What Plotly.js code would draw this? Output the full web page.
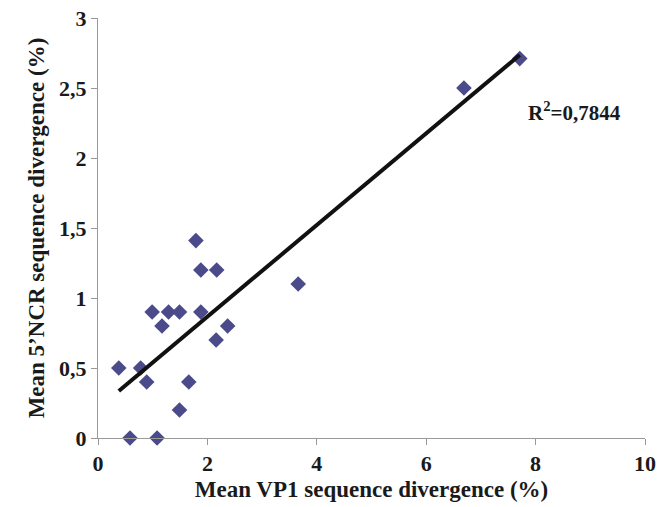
<!DOCTYPE html>
<html>
<head>
<meta charset="utf-8">
<script src="https://cdn.plot.ly/plotly-3.0.1.min.js"></script>
<style>html,body{margin:0;padding:0;background:#fff;}#chart{width:665px;height:507px;}</style>
</head>
<body>
<div id="chart"></div>
<script>
var vp1Divergence = [0.38, 0.585, 0.78, 0.89, 0.99, 1.08, 1.17, 1.29, 1.49, 1.49, 1.66, 1.79, 1.88, 1.88, 2.17, 2.16, 2.37, 3.66, 6.69, 7.71];
var ncrDivergence = [0.5, 0, 0.5, 0.4, 0.9, 0, 0.8, 0.9, 0.9, 0.2, 0.4, 1.41, 1.2, 0.9, 1.2, 0.7, 0.8, 1.1, 2.5, 2.71];
var xTicks = [0, 2, 4, 6, 8, 10];
var xTickLabels = ['0', '2', '4', '6', '8', '10'];
var yTicks = [0, 0.5, 1, 1.5, 2, 2.5, 3];
var yTickLabels = ['0', '0,5', '1', '1,5', '2', '2,5', '3'];
var r2Label = 'R<sup>2</sup>=0,7844';

// least-squares trend line from the data
var n = vp1Divergence.length, mx = 0, my = 0;
for (var i = 0; i < n; i++) { mx += vp1Divergence[i]; my += ncrDivergence[i]; }
mx /= n; my /= n;
var sxy = 0, sxx = 0;
for (var i = 0; i < n; i++) { sxy += (vp1Divergence[i]-mx)*(ncrDivergence[i]-my); sxx += (vp1Divergence[i]-mx)*(vp1Divergence[i]-mx); }
var slope = sxy/sxx, icpt = my - slope*mx;
var xMin = Math.min.apply(null, vp1Divergence), xMax = Math.max.apply(null, vp1Divergence);
var trendX = [xMin, xMax];
var trendY = trendX.map(function(v){ return icpt + slope*v; });

var fam = '"Liberation Serif", "Times New Roman", serif';
function bold(a){ return a.map(function(s){ return '<b>' + s + '</b>'; }); }

var traces = [
  {x: vp1Divergence, y: ncrDivergence, type: 'scatter', mode: 'markers', cliponaxis: false,
   marker: {symbol: 'diamond', size: 12, color: '#4B4A8A'}},
  {x: trendX, y: trendY, type: 'scatter', mode: 'lines', cliponaxis: false,
   line: {color: '#111', width: 4}}
];

var layout = {
  width: 665, height: 507,
  margin: {l: 98, r: 20, t: 18, b: 69},
  paper_bgcolor: '#fff', plot_bgcolor: '#fff',
  showlegend: false,
  font: {family: fam, color: '#1a1a1a', size: 20},
  xaxis: {range: [0, 10], tickmode: 'array', tickvals: xTicks, ticktext: bold(xTickLabels), showgrid: false, zeroline: false,
          showline: true, linecolor: '#999', linewidth: 1, ticks: 'outside', ticklen: 6, tickcolor: '#999',
          tickfont: {family: fam, size: 22, color: '#1a1a1a'},
          title: {text: '<b>Mean VP1 sequence divergence (%)</b>', font: {family: fam, size: 23, color: '#1a1a1a'}, standoff: 5}},
  yaxis: {range: [0, 3], tickmode: 'array', tickvals: yTicks, ticktext: bold(yTickLabels), showgrid: false, zeroline: false,
          showline: true, linecolor: '#999', linewidth: 1, ticks: 'outside', ticklen: 6, tickcolor: '#999',
          tickfont: {family: fam, size: 22, color: '#1a1a1a'},
          title: {text: '<b>Mean 5’NCR sequence divergence (%)</b>', font: {family: fam, size: 23, color: '#1a1a1a'}, standoff: 8}},
  annotations: [{x: 8.72, y: 2.33, xref: 'x', yref: 'y', text: '<b>' + r2Label + '</b>', showarrow: false,
                 font: {family: fam, size: 21, color: '#1a1a1a'}}]
};

Plotly.newPlot('chart', traces, layout, {displayModeBar: false, staticPlot: true});
</script>
</body>
</html>
